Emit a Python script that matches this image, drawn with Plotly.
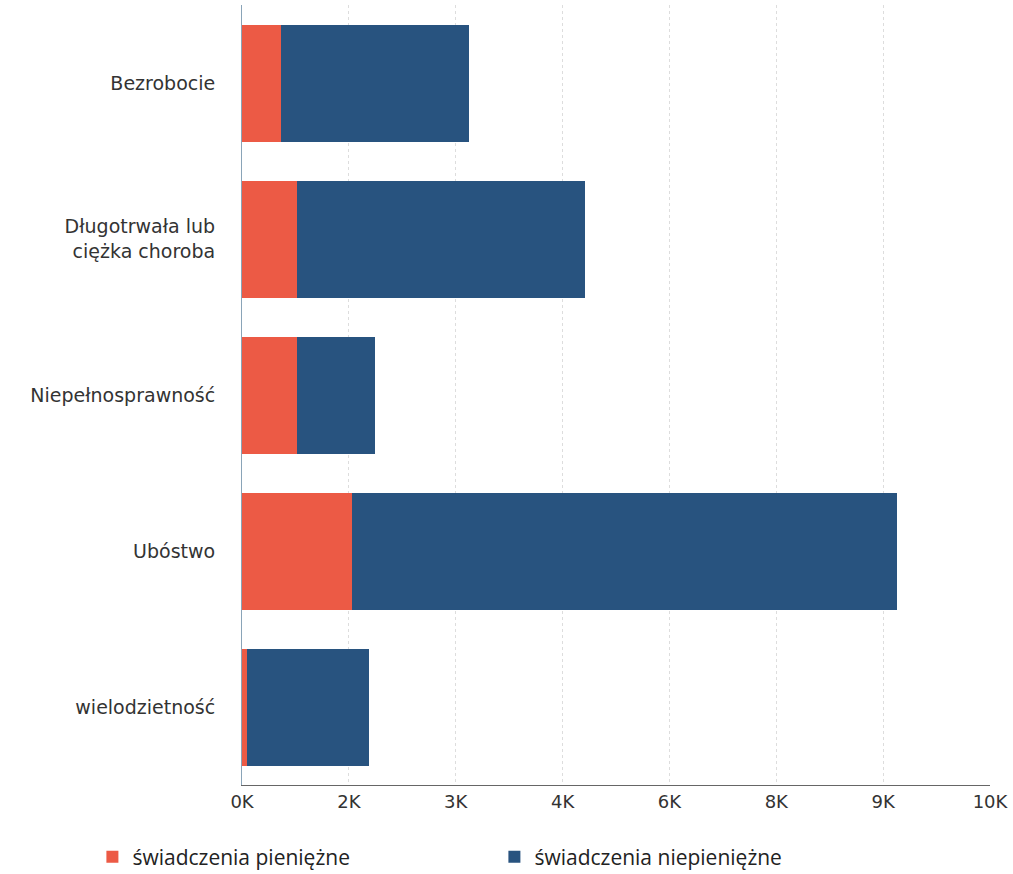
import plotly.graph_objects as go

categories = ["Bezrobocie", "Długotrwała lub<br>ciężka choroba", "Niepełnosprawność", "Ubóstwo", "wielodzietność"]
pieniezne = [520, 740, 740, 1470, 70]
niepieniezne = [2510, 3850, 1040, 7290, 1630]
tick_vals = [i * 10000 / 7 for i in range(8)]
tick_text = ["0K", "2K", "3K", "4K", "6K", "8K", "9K", "10K"]

fig = go.Figure()
fig.add_trace(go.Bar(y=categories, x=pieniezne, orientation="h", name="świadczenia pieniężne",
                     marker=dict(color="#EC5A45", line=dict(width=0))))
fig.add_trace(go.Bar(y=categories, x=niepieniezne, orientation="h", name="świadczenia niepieniężne",
                     marker=dict(color="#28537F", line=dict(width=0))))

fig.update_layout(
    barmode="stack",
    bargap=0.25,
    width=1013, height=874,
    margin=dict(l=242, r=23, t=5, b=89, autoexpand=False),
    paper_bgcolor="white", plot_bgcolor="white",
    font=dict(family="DejaVu Sans", size=18, color="#333333"),
    showlegend=True,
    legend=dict(orientation="h", x=-0.2, y=-0.066, xanchor="left", yanchor="top",
                entrywidth=357, entrywidthmode="pixels", traceorder="normal",
                font=dict(family="Open Sans", size=21, color="#222222"), itemwidth=30),
)
fig.update_xaxes(range=[0, 10000], tickvals=tick_vals, ticktext=tick_text,
                 showgrid=True, gridcolor="#DDDDDD", griddash="dot", gridwidth=1,
                 showline=True, linecolor="#666666", linewidth=1, ticks="",
                 tickfont=dict(family="DejaVu Sans", size=18, color="#333333"),
                 zeroline=False, automargin=False)
fig.update_yaxes(autorange="reversed", showline=True, linecolor="#8AA4B8", linewidth=1,
                 ticks="", ticklabelstandoff=22, showgrid=False, automargin=False,
                 tickfont=dict(family="DejaVu Sans", size=19, color="#333333"))

fig.write_html("out.html", config={"displayModeBar": False},
               post_script="document.body.style.margin='0';document.body.style.overflow='hidden';")
